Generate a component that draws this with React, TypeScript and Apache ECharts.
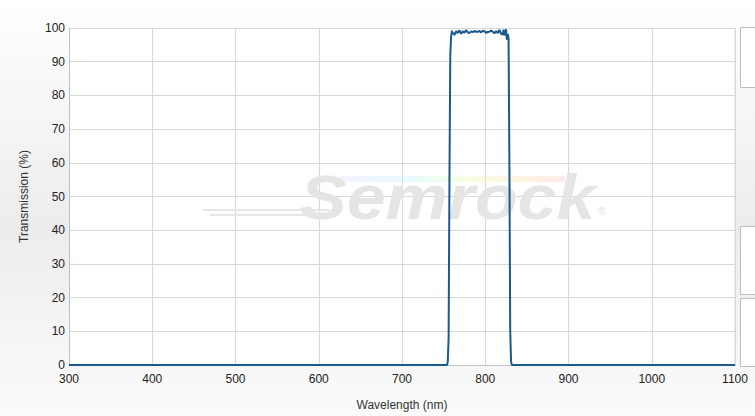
import React, { useEffect, useRef } from "react";
import * as echarts from "echarts";

const wavelengths = [
  300, 754, 755, 756, 757, 758, 759, 760, 761, 762, 763, 765, 767, 769, 771, 773, 775, 777, 779, 781,
  783, 785, 787, 789, 791, 793, 795, 797, 799, 801, 803, 805, 807, 809, 811, 813, 815, 817, 819,
  821, 822, 823, 824, 825, 826, 827, 828, 829, 830, 831, 832, 1100,
];
const transmission = [
  0, 0, 1, 8, 55, 92, 97.5, 99.2, 98.2, 98.6, 97.9, 99.1, 98.5, 99.3, 98.3, 99.0, 98.6, 99.4, 98.7, 98.5,
  99.0, 98.8, 99.1, 98.9, 98.9, 99.1, 98.7, 99.2, 99.0, 98.6, 98.8, 98.9, 99.2, 98.9, 98.4, 99.1, 98.5, 99.4, 98.3,
  98.0, 99.5, 97.8, 98.6, 99.6, 96.5, 98.2, 97.0, 60, 10, 1, 0, 0,
];
const xTicks = { min: 300, max: 1100, interval: 100 };
const yTicks = { min: 0, max: 100, interval: 10 };

export default function App() {
  const ref = useRef<HTMLDivElement>(null);
  useEffect(() => {
    const chart = echarts.init(ref.current!, null, { renderer: "svg" });
    const font = "'Liberation Sans', Arial, sans-serif";
    chart.setOption({
      animation: false,
      backgroundColor: {
        type: "linear", x: 0, y: 0, x2: 0, y2: 1,
        colorStops: [
          { offset: 0, color: "#ffffff" },
          { offset: 0.55, color: "#ececec" },
          { offset: 1, color: "#fbfbfb" },
        ],
      },
      grid: {
        left: 69, right: 20, top: 28, bottom: 50,
        show: true, backgroundColor: "#ffffff", borderWidth: 0,
      },
      xAxis: {
        type: "value",
        min: xTicks.min, max: xTicks.max, interval: xTicks.interval,
        name: "Wavelength (nm)", nameLocation: "middle", nameGap: 34,
        nameTextStyle: { color: "#333", fontSize: 12, fontFamily: font },
        axisLine: { show: true, lineStyle: { color: "#c0c0c0" } },
        axisTick: { show: false },
        axisLabel: { color: "#222", fontSize: 12, fontFamily: font, margin: 8, formatter: (v: number) => String(v) },
        splitLine: { show: true, lineStyle: { color: "#d8d8d8" } },
      },
      yAxis: {
        type: "value",
        min: yTicks.min, max: yTicks.max, interval: yTicks.interval,
        name: "Transmission (%)", nameLocation: "middle", nameGap: 39,
        nameTextStyle: { color: "#333", fontSize: 12, fontFamily: font },
        axisLine: { show: true, lineStyle: { color: "#c0c0c0" } },
        axisTick: { show: false },
        axisLabel: { color: "#222", fontSize: 12, fontFamily: font, margin: 4 },
        splitLine: { show: true, lineStyle: { color: "#d8d8d8" } },
      },
      graphic: [
        { type: "line", z: 0, shape: { x1: 735, y1: 28, x2: 735, y2: 366 }, style: { stroke: "#d8d8d8", lineWidth: 1 } },
        { type: "rect", z: 0, shape: { x: 740.5, y: 27.5, width: 30, height: 60 }, style: { fill: "#ffffff", stroke: "#bdbdbd", lineWidth: 1 } },
        { type: "rect", z: 0, shape: { x: 740.5, y: 226.5, width: 30, height: 68 }, style: { fill: "#ffffff", stroke: "#bdbdbd", lineWidth: 1 } },
        { type: "rect", z: 0, shape: { x: 740.5, y: 298.5, width: 30, height: 68 }, style: { fill: "#ffffff", stroke: "#bdbdbd", lineWidth: 1 } },
        {
          type: "rect", z: 1, silent: true,
          shape: { x: 340, y: 176, width: 225, height: 6 },
          style: {
            fill: {
              type: "linear", x: 0, y: 0, x2: 1, y2: 0,
              colorStops: [
                { offset: 0, color: "rgba(210,210,255,0.25)" },
                { offset: 0.3, color: "rgba(190,240,255,0.35)" },
                { offset: 0.55, color: "rgba(230,255,190,0.4)" },
                { offset: 0.8, color: "rgba(255,225,180,0.4)" },
                { offset: 1, color: "rgba(255,200,200,0.35)" },
              ],
            },
          },
        },
        { type: "line", z: 1, silent: true, shape: { x1: 203, y1: 210, x2: 330, y2: 210 }, style: { stroke: "#e6e6e6", lineWidth: 2 } },
        { type: "line", z: 1, silent: true, shape: { x1: 210, y1: 215, x2: 325, y2: 215 }, style: { stroke: "#e6e6e6", lineWidth: 2 } },
        {
          type: "text", z: 1, silent: true, x: 300, y: 166, scaleX: 1.11,
          style: {
            text: "Semrock", fill: "#e5e5e5", fontSize: 63, fontWeight: 900,
            fontStyle: "italic", fontFamily: "'Liberation Sans', Arial, sans-serif",
          },
        },
        {
          type: "text", z: 1, silent: true, x: 598, y: 206,
          style: { text: "®", fill: "#e2e2e2", fontSize: 10, fontFamily: font },
        },
      ],
      series: [
        {
          type: "line",
          z: 5,
          data: wavelengths.map((w, i) => [w, transmission[i]]),
          showSymbol: false,
          lineStyle: { color: "#1b5a8c", width: 2 },
          itemStyle: { color: "#1b5a8c" },
        },
      ],
    });
    return () => chart.dispose();
  }, []);
  return <div ref={ref} style={{ position: "absolute", left: 0, top: 0, width: 755, height: 416 }} />;
}
